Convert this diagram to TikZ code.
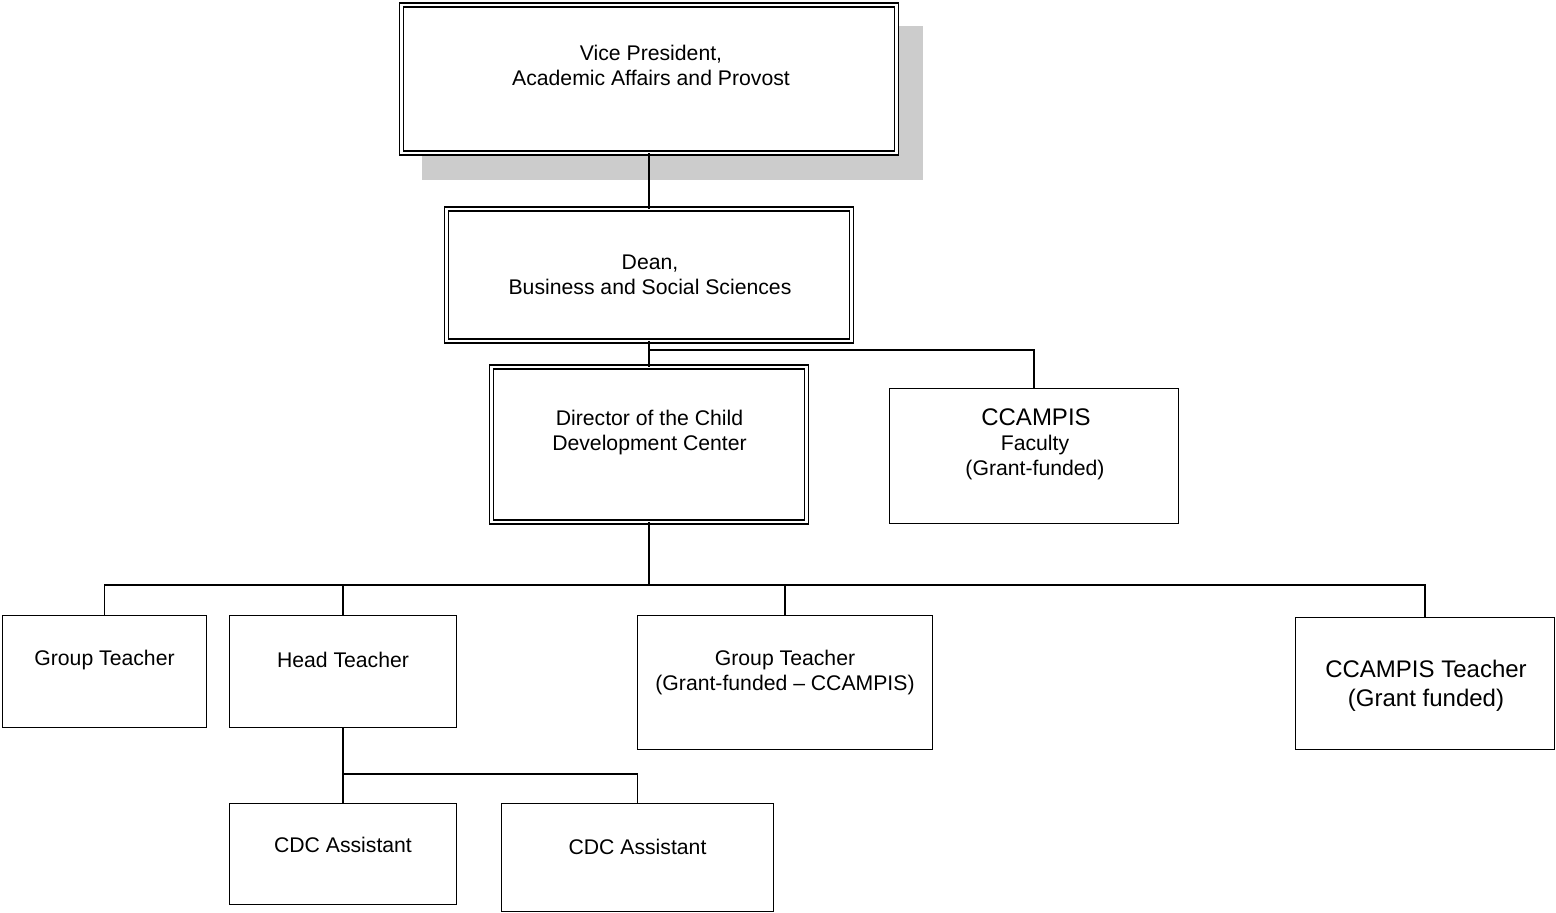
\documentclass[tikz,border=0pt]{standalone}
\usepackage{fontspec}
\setmainfont{Liberation Sans}
\begin{document}
\begin{tikzpicture}[x=0.5pt,y=-0.5pt,
  box/.style={draw=black, line width=0.8pt, rectangle, inner sep=0pt, outer sep=0pt},
  dbox/.style={box, double=white, double distance=1.2pt},
  lbl/.style={align=center, inner sep=0pt, font=\fontsize{10.6}{12.5}\selectfont},
  big/.style={align=center, inner sep=0pt, font=\fontsize{12}{14.5}\selectfont},
  conn/.style={draw=black, line width=0.8pt}]
\useasboundingbox (0,0) rectangle (1556,913);
% shadow
\fill[black!20] (422,26) rectangle (923,180);
% boxes
\node[dbox, fill=white, minimum width=247.5pt, minimum height=74pt] (vp) at (649,79) {};
\node[dbox, minimum width=202.5pt, minimum height=66pt] (dean) at (649,275) {};
\node[dbox, minimum width=157.5pt, minimum height=77.5pt] (dir) at (649,444.5) {};
\node[box, minimum width=144.5pt, minimum height=67.5pt] (fac) at (1034,456) {};
\node[box, minimum width=102pt, minimum height=56pt] (gt1) at (104.5,671.5) {};
\node[box, minimum width=113.5pt, minimum height=56pt] (ht) at (343,671.5) {};
\node[box, minimum width=147.5pt, minimum height=67pt] (gt2) at (785,682.5) {};
\node[box, minimum width=129.5pt, minimum height=66pt] (ct) at (1425,683.5) {};
\node[box, minimum width=113.5pt, minimum height=50.5pt] (cdc1) at (343,854) {};
\node[box, minimum width=136pt, minimum height=54pt] (cdc2) at (637.5,857.5) {};
% labels
\node[lbl] (vpt) at (651,65) {Vice President,\\Academic Affairs and Provost};
\node[lbl] (deant) at (650,275) {Dean,\\Business and Social Sciences};
\node[lbl] (dirt) at (649.5,433) {Director of the Child\\Development Center};
\node[big] (fact1) at (1036,417) {CCAMPIS};
\node[lbl] (fact2) at (1035,458) {Faculty\\(Grant-funded)};
\node[lbl] (gt1t) at (104.5,660.5) {Group Teacher};
\node[lbl] (htt) at (343,659.5) {Head Teacher};
\node[lbl] (gt2t) at (785,672.5) {Group Teacher\\(Grant-funded -- CCAMPIS)};
\node[big] (ctt) at (1426,686) {CCAMPIS Teacher\\(Grant funded)};
\node[lbl] (cdc1t) at (343,844.5) {CDC Assistant};
\node[lbl] (cdc2t) at (637.5,846.5) {CDC Assistant};
% junctions
\coordinate (j1) at (649,350);
\coordinate (bus) at (649,585);
\coordinate (j2) at (343,774);
% connectors
\draw[conn] (vp.south) -- (dean.north);
\draw[conn] (dean.south) -- (dir.north);
\draw[conn] (j1) -| (fac.north);
\draw[conn] (dir.south) -- (bus);
\draw[conn] (gt1.north) |- (bus);
\draw[conn] (bus) -| (ct.north);
\draw[conn] (ht.north) -- (ht.north |- bus);
\draw[conn] (gt2.north) -- (gt2.north |- bus);
\draw[conn] (ht.south) -- (cdc1.north);
\draw[conn] (j2) -| (cdc2.north);
\end{tikzpicture}
\end{document}
